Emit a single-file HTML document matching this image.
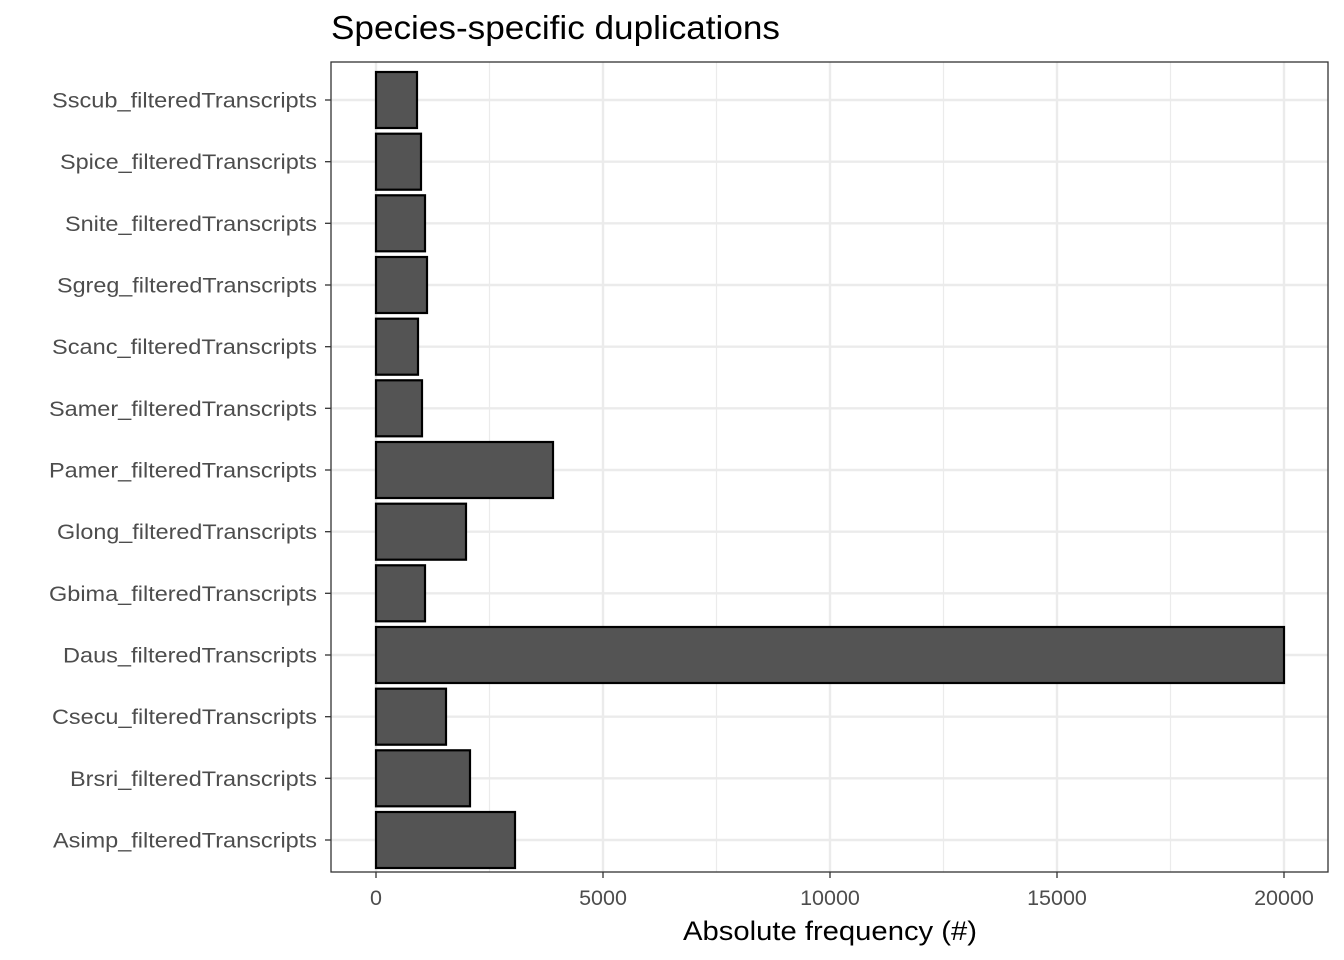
<!DOCTYPE html>
<html><head><meta charset="utf-8"><style>body{margin:0;background:#fff}svg{display:block}</style></head><body>
<svg width="1344" height="960" xmlns="http://www.w3.org/2000/svg" font-family="Liberation Sans, Arial, sans-serif">
<rect width="1344" height="960" fill="#fff"/>
<g stroke="#ebebeb" stroke-width="1.2">
<line x1="489.5" y1="62" x2="489.5" y2="872"/><line x1="716.5" y1="62" x2="716.5" y2="872"/><line x1="943.5" y1="62" x2="943.5" y2="872"/><line x1="1170.5" y1="62" x2="1170.5" y2="872"/>
</g>
<g stroke="#ebebeb" stroke-width="2.4">
<line x1="376" y1="62" x2="376" y2="872"/><line x1="603" y1="62" x2="603" y2="872"/><line x1="830" y1="62" x2="830" y2="872"/><line x1="1057" y1="62" x2="1057" y2="872"/><line x1="1284" y1="62" x2="1284" y2="872"/>
<line x1="331" y1="100" x2="1328" y2="100"/><line x1="331" y1="161.7" x2="1328" y2="161.7"/><line x1="331" y1="223.3" x2="1328" y2="223.3"/><line x1="331" y1="285" x2="1328" y2="285"/><line x1="331" y1="346.7" x2="1328" y2="346.7"/><line x1="331" y1="408.3" x2="1328" y2="408.3"/><line x1="331" y1="470" x2="1328" y2="470"/><line x1="331" y1="531.7" x2="1328" y2="531.7"/><line x1="331" y1="593.3" x2="1328" y2="593.3"/><line x1="331" y1="655" x2="1328" y2="655"/><line x1="331" y1="716.7" x2="1328" y2="716.7"/><line x1="331" y1="778.3" x2="1328" y2="778.3"/><line x1="331" y1="840" x2="1328" y2="840"/>
</g>
<g fill="#545454" stroke="#000" stroke-width="2.2">
<rect x="376" y="72" width="41" height="56"/>
<rect x="376" y="133.7" width="45" height="56"/>
<rect x="376" y="195.3" width="49" height="56"/>
<rect x="376" y="257" width="51" height="56"/>
<rect x="376" y="318.7" width="42" height="56"/>
<rect x="376" y="380.3" width="46" height="56"/>
<rect x="376" y="442" width="177" height="56"/>
<rect x="376" y="503.7" width="90" height="56"/>
<rect x="376" y="565.3" width="49" height="56"/>
<rect x="376" y="627" width="908" height="56"/>
<rect x="376" y="688.7" width="70" height="56"/>
<rect x="376" y="750.3" width="94" height="56"/>
<rect x="376" y="812" width="139" height="56"/>
</g>
<rect x="331" y="62" width="997" height="810" fill="none" stroke="#333" stroke-width="1.3"/>
<g stroke="#333" stroke-width="1.3">
<line x1="325" y1="100" x2="331" y2="100"/><line x1="325" y1="161.7" x2="331" y2="161.7"/><line x1="325" y1="223.3" x2="331" y2="223.3"/><line x1="325" y1="285" x2="331" y2="285"/><line x1="325" y1="346.7" x2="331" y2="346.7"/><line x1="325" y1="408.3" x2="331" y2="408.3"/><line x1="325" y1="470" x2="331" y2="470"/><line x1="325" y1="531.7" x2="331" y2="531.7"/><line x1="325" y1="593.3" x2="331" y2="593.3"/><line x1="325" y1="655" x2="331" y2="655"/><line x1="325" y1="716.7" x2="331" y2="716.7"/><line x1="325" y1="778.3" x2="331" y2="778.3"/><line x1="325" y1="840" x2="331" y2="840"/>
<line x1="376" y1="872" x2="376" y2="878"/><line x1="603" y1="872" x2="603" y2="878"/><line x1="830" y1="872" x2="830" y2="878"/><line x1="1057" y1="872" x2="1057" y2="878"/><line x1="1284" y1="872" x2="1284" y2="878"/>
</g>
<g fill="#4d4d4d" font-size="21" text-anchor="end" lengthAdjust="spacingAndGlyphs">
<text x="317" y="107.5" textLength="265" lengthAdjust="spacingAndGlyphs">Sscub_filteredTranscripts</text>
<text x="317" y="169.2" textLength="257" lengthAdjust="spacingAndGlyphs">Spice_filteredTranscripts</text>
<text x="317" y="230.8" textLength="252" lengthAdjust="spacingAndGlyphs">Snite_filteredTranscripts</text>
<text x="317" y="292.5" textLength="260" lengthAdjust="spacingAndGlyphs">Sgreg_filteredTranscripts</text>
<text x="317" y="354.2" textLength="265" lengthAdjust="spacingAndGlyphs">Scanc_filteredTranscripts</text>
<text x="317" y="415.8" textLength="268" lengthAdjust="spacingAndGlyphs">Samer_filteredTranscripts</text>
<text x="317" y="477.5" textLength="268" lengthAdjust="spacingAndGlyphs">Pamer_filteredTranscripts</text>
<text x="317" y="539.2" textLength="260" lengthAdjust="spacingAndGlyphs">Glong_filteredTranscripts</text>
<text x="317" y="600.8" textLength="268" lengthAdjust="spacingAndGlyphs">Gbima_filteredTranscripts</text>
<text x="317" y="662.5" textLength="254" lengthAdjust="spacingAndGlyphs">Daus_filteredTranscripts</text>
<text x="317" y="724.2" textLength="265" lengthAdjust="spacingAndGlyphs">Csecu_filteredTranscripts</text>
<text x="317" y="785.8" textLength="247" lengthAdjust="spacingAndGlyphs">Brsri_filteredTranscripts</text>
<text x="317" y="847.5" textLength="264" lengthAdjust="spacingAndGlyphs">Asimp_filteredTranscripts</text>
</g>
<g fill="#4d4d4d" font-size="21.5" text-anchor="middle">
<text x="376" y="905">0</text><text x="603" y="905">5000</text><text x="830" y="905">10000</text><text x="1057" y="905">15000</text><text x="1284" y="905">20000</text>
</g>
<text x="830" y="940" font-size="27" text-anchor="middle" fill="#000" textLength="294" lengthAdjust="spacingAndGlyphs">Absolute frequency (#)</text>
<text x="331" y="39" font-size="33" fill="#000" textLength="449" lengthAdjust="spacingAndGlyphs">Species-specific duplications</text>
</svg>
</body></html>
